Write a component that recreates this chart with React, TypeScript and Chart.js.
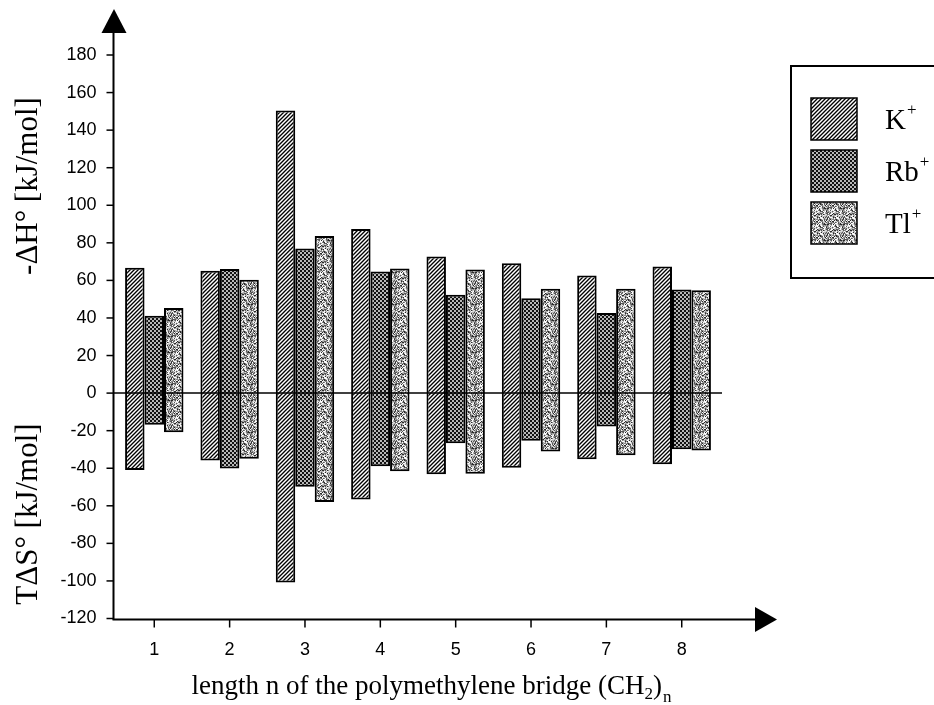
import React, { useEffect, useRef } from "react";
import { Chart, registerables } from "chart.js";

Chart.register(...registerables);

// ---- data (kJ/mol) ----
const categories = ["1", "2", "3", "4", "5", "6", "7", "8"];
const ionLabels = ["K", "Rb", "Tl"];
// -ΔH° (positive part)
const kEnthalpy = [66.7, 65.2, 150.4, 87.3, 72.7, 69.1, 62.6, 67.4];
const rbEnthalpy = [41.2, 66.1, 77.0, 64.7, 52.4, 50.5, 42.7, 55.1];
const tlEnthalpy = [45.3, 60.3, 83.7, 66.3, 65.8, 55.5, 55.5, 54.7];
// TΔS° (negative part)
const kEntropy = [-40.9, -35.9, -100.8, -56.7, -43.2, -39.7, -35.2, -37.9];
const rbEntropy = [-16.9, -40.2, -49.8, -39.0, -26.7, -25.4, -17.8, -29.9];
const tlEntropy = [-20.8, -35.0, -58.0, -41.6, -43.0, -31.1, -33.1, -30.6];
const yMin = -120;
const yMax = 180;
const yStep = 20;
const xTitle = "length n of the polymethylene bridge (CH";
const yTitleTop = "-ΔH° [kJ/mol]";
const yTitleBottom = "TΔS° [kJ/mol]";

function makeHatch(): CanvasPattern {
  const c = document.createElement("canvas");
  c.width = 4;
  c.height = 4;
  const g = c.getContext("2d")!;
  g.fillStyle = "#fff";
  g.fillRect(0, 0, 4, 4);
  g.strokeStyle = "#000";
  g.lineWidth = 1.35;
  g.beginPath();
  g.moveTo(-1, 5);
  g.lineTo(5, -1);
  g.moveTo(-1, 1);
  g.lineTo(1, -1);
  g.moveTo(3, 5);
  g.lineTo(5, 3);
  g.stroke();
  return g.createPattern(c, "repeat")!;
}

function makeDots(): CanvasPattern {
  const c = document.createElement("canvas");
  c.width = 4;
  c.height = 4;
  const g = c.getContext("2d")!;
  g.fillStyle = "#111";
  g.fillRect(0, 0, 4, 4);
  g.fillStyle = "#fff";
  for (const [px, py] of [
    [1, 1],
    [3, 3],
  ]) {
    g.beginPath();
    g.arc(px, py, 0.95, 0, Math.PI * 2);
    g.fill();
  }
  return g.createPattern(c, "repeat")!;
}

function makeSpeckle(): CanvasPattern {
  const n = 16;
  const c = document.createElement("canvas");
  c.width = n;
  c.height = n;
  const g = c.getContext("2d")!;
  const shades = ["#ffffff", "#dadada", "#b0b0b0", "#858585", "#575757", "#2a2a2a"];
  for (let yy = 0; yy < n; yy++) {
    for (let xx = 0; xx < n; xx++) {
      // deterministic hash-based texture
      let h = (xx * 374761393 + yy * 668265263) | 0;
      h = Math.imul(h ^ (h >>> 13), 1274126177);
      h = (h ^ (h >>> 16)) >>> 0;
      const v = (h % 1000) / 1000;
      let idx = 0;
      if (v < 0.16) idx = 0;
      else if (v < 0.34) idx = 1;
      else if (v < 0.54) idx = 2;
      else if (v < 0.73) idx = 3;
      else if (v < 0.89) idx = 4;
      else idx = 5;
      g.fillStyle = shades[idx];
      g.fillRect(xx, yy, 1, 1);
    }
  }
  return g.createPattern(c, "repeat")!;
}

const decorPlugin = {
  id: "decor",
  afterDraw(chart: any) {
    const ctx: CanvasRenderingContext2D = chart.ctx;
    const xs = chart.scales.x;
    const ys = chart.scales.y;
    const axisX = 113.5;
    const axisY = 619.5;
    const line = (x1: number, y1: number, x2: number, y2: number) => {
      ctx.beginPath();
      ctx.moveTo(x1, y1);
      ctx.lineTo(x2, y2);
      ctx.stroke();
    };
    const tri = (pts: number[][]) => {
      ctx.beginPath();
      ctx.moveTo(pts[0][0], pts[0][1]);
      ctx.lineTo(pts[1][0], pts[1][1]);
      ctx.lineTo(pts[2][0], pts[2][1]);
      ctx.closePath();
      ctx.fill();
    };
    ctx.save();
    ctx.strokeStyle = "#000";
    ctx.fillStyle = "#000";

    // zero line
    const y0 = ys.getPixelForValue(0);
    ctx.lineWidth = 1.5;
    line(axisX, y0, 722, y0);

    // axes with arrows
    ctx.lineWidth = 2;
    line(axisX, axisY, axisX, 30);
    line(axisX - 1, axisY, 757, axisY);
    tri([
      [101.5, 33],
      [126.5, 33],
      [114, 9],
    ]);
    tri([
      [755, 607],
      [755, 632],
      [777, 619.5],
    ]);

    // tick marks
    ctx.lineWidth = 1.5;
    ys.ticks.forEach((_t: any, i: number) => {
      const py = ys.getPixelForTick(i);
      line(axisX - 7, py, axisX, py);
    });
    xs.ticks.forEach((_t: any, i: number) => {
      const px = xs.getPixelForTick(i);
      line(px, axisY, px, axisY + 8);
    });

    // x title with subscripts
    const big = "27px 'Liberation Serif', 'Times New Roman', serif";
    const small = "17px 'Liberation Serif', 'Times New Roman', serif";
    ctx.textBaseline = "alphabetic";
    ctx.textAlign = "left";
    ctx.font = big;
    const w1 = ctx.measureText(xTitle).width;
    const w3 = ctx.measureText(")").width;
    ctx.font = small;
    const w2 = ctx.measureText("2").width;
    const w4 = ctx.measureText("n").width;
    const total = w1 + w2 + w3 + w4;
    const bx = 431 - total / 2;
    const by = 694;
    ctx.font = big;
    ctx.fillText(xTitle, bx, by);
    ctx.font = small;
    ctx.fillText("2", bx + w1, by + 5);
    ctx.font = big;
    ctx.fillText(")", bx + w1 + w2, by);
    ctx.font = small;
    ctx.fillText("n", bx + w1 + w2 + w3 + 1, by + 8);

    // y titles (rotated)
    ctx.font = "31px 'Liberation Serif', 'Times New Roman', serif";
    ctx.textAlign = "center";
    ctx.textBaseline = "middle";
    ctx.save();
    ctx.translate(29, 186);
    ctx.rotate(-Math.PI / 2);
    ctx.fillText(yTitleTop, 0, 0);
    ctx.restore();
    ctx.save();
    ctx.translate(29, 514);
    ctx.rotate(-Math.PI / 2);
    ctx.fillText(yTitleBottom, 0, 0);
    ctx.restore();

    // legend
    ctx.lineWidth = 2;
    ctx.strokeRect(791, 66, 200, 212);
    const fills = [0, 2, 4].map((k) => chart.data.datasets[k].backgroundColor);
    ionLabels.forEach((lab, i) => {
      const top = 98 + i * 52;
      ctx.fillStyle = fills[i];
      ctx.fillRect(811, top, 46, 42);
      ctx.lineWidth = 1.5;
      ctx.strokeStyle = "#000";
      ctx.strokeRect(811, top, 46, 42);
      ctx.fillStyle = "#000";
      ctx.textAlign = "left";
      ctx.textBaseline = "alphabetic";
      ctx.font = "29px 'Liberation Serif', 'Times New Roman', serif";
      ctx.fillText(lab, 885, top + 31);
      const lw = ctx.measureText(lab).width;
      ctx.font = "17px 'Liberation Serif', 'Times New Roman', serif";
      ctx.fillText("+", 885 + lw + 1, top + 17);
    });

    ctx.restore();
  },
};

export default function App() {
  const ref = useRef<HTMLCanvasElement | null>(null);

  useEffect(() => {
    if (!ref.current) return;
    const hatch = makeHatch();
    const dots = makeDots();
    const speckle = makeSpeckle();
    const common = { borderColor: "#000", borderWidth: 2, categoryPercentage: 0.775, barPercentage: 1.0 };
    const chart = new Chart(ref.current, {
      type: "bar",
      data: {
        labels: categories,
        datasets: [
          { label: "K+ -ΔH°", data: kEnthalpy, stack: "K", backgroundColor: hatch, ...common },
          { label: "K+ TΔS°", data: kEntropy, stack: "K", backgroundColor: hatch, ...common },
          { label: "Rb+ -ΔH°", data: rbEnthalpy, stack: "Rb", backgroundColor: dots, ...common },
          { label: "Rb+ TΔS°", data: rbEntropy, stack: "Rb", backgroundColor: dots, ...common },
          { label: "Tl+ -ΔH°", data: tlEnthalpy, stack: "Tl", backgroundColor: speckle, ...common },
          { label: "Tl+ TΔS°", data: tlEntropy, stack: "Tl", backgroundColor: speckle, ...common },
        ] as any,
      },
      options: {
        responsive: false,
        animation: false,
        devicePixelRatio: 1,
        layout: { padding: { left: 0, top: 55, right: 214.6, bottom: 0 } },
        plugins: {
          legend: { display: false },
          tooltip: { enabled: false },
        },
        scales: {
          x: {
            stacked: true,
            grid: { display: false, drawTicks: false },
            border: { display: false },
            ticks: {
              color: "#000",
              padding: 21,
              font: { family: "'Liberation Sans', Arial, sans-serif", size: 18 },
            },
            afterFit: (s: any) => {
              s.height = 86.5;
            },
          },
          y: {
            stacked: true,
            min: yMin,
            max: yMax,
            grid: { display: false, drawTicks: false },
            border: { display: false },
            ticks: {
              stepSize: yStep,
              color: "#000",
              padding: 20,
              font: { family: "'Liberation Sans', Arial, sans-serif", size: 18 },
            },
            afterFit: (s: any) => {
              s.width = 116.6;
            },
          },
        },
      },
      plugins: [decorPlugin],
    });
    return () => chart.destroy();
  }, []);

  return (
    <div style={{ position: "fixed", left: 0, top: 0, width: 934, height: 705, background: "#fff" }}>
      <canvas ref={ref} width={934} height={705} style={{ width: 934, height: 705, display: "block" }} />
    </div>
  );
}
